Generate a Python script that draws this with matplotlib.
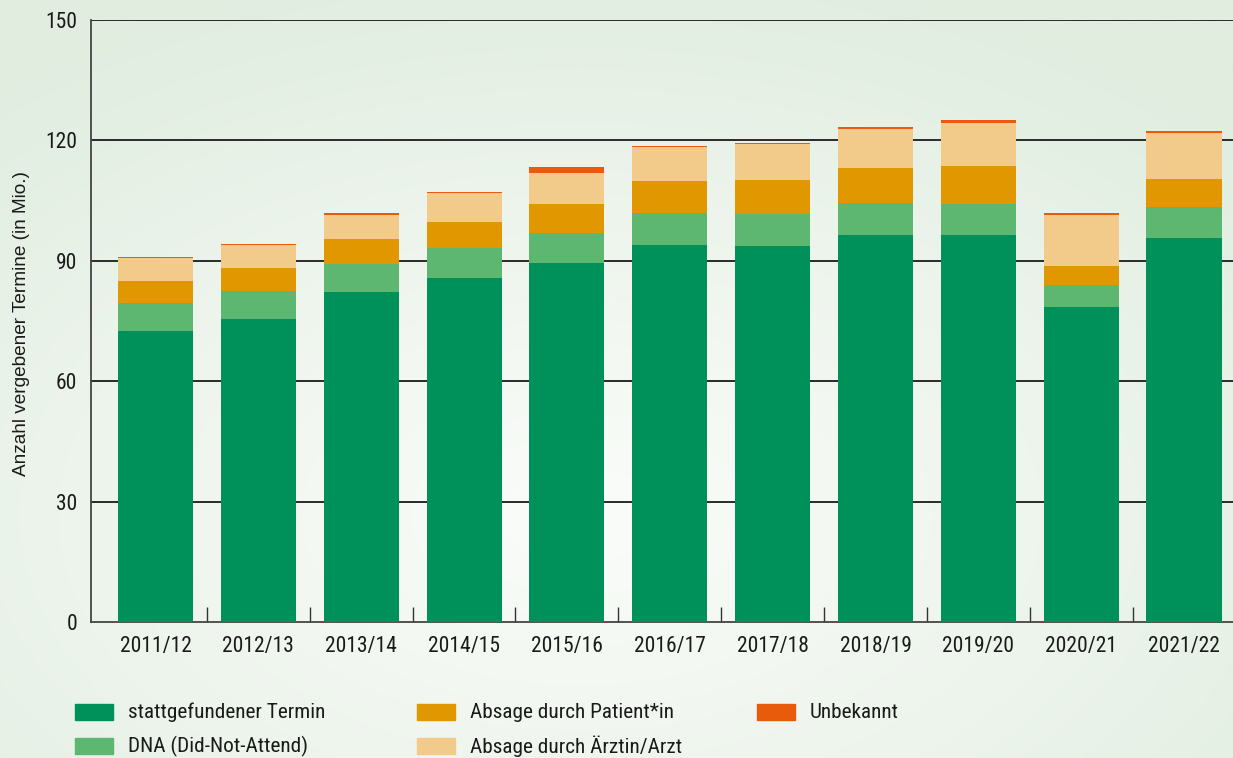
import numpy as np
import matplotlib
matplotlib.use("Agg")
import matplotlib.pyplot as plt
from matplotlib.patches import Rectangle
from matplotlib.colors import to_rgb

plt.rcParams['font.family'] = ['Roboto Condensed', 'DejaVu Sans']

categories = ["2011/12", "2012/13", "2013/14", "2014/15", "2015/16", "2016/17",
              "2017/18", "2018/19", "2019/20", "2020/21", "2021/22"]
stattgefunden = [72.5, 75.5, 82.2, 85.7, 89.5, 93.9, 93.7, 96.4, 96.4, 78.5, 95.7]
dna = [7.0, 7.0, 7.1, 7.6, 7.4, 7.9, 8.0, 8.0, 7.8, 5.5, 7.7]
absage_patient = [5.5, 5.7, 6.1, 6.4, 7.3, 8.1, 8.4, 8.7, 9.4, 4.7, 7.0]
absage_arzt = [5.7, 5.7, 6.0, 7.2, 7.7, 8.5, 9.0, 9.7, 10.7, 12.7, 11.45]
unbekannt = [0.25, 0.3, 0.5, 0.25, 1.5, 0.25, 0.3, 0.5, 0.8, 0.5, 0.5]

series_names = ["stattgefundener Termin", "DNA (Did-Not-Attend)",
                "Absage durch Patient*in", "Absage durch Ärztin/Arzt", "Unbekannt"]
series_values = [stattgefunden, dna, absage_patient, absage_arzt, unbekannt]
colors = ["#00905A", "#5DB771", "#E19800", "#F2CB8B", "#E85B0A"]

W, H = 1233, 758
fig = plt.figure(figsize=(W / 100, H / 100), dpi=100)

# background gradient
bg = fig.add_axes([0, 0, 1, 1], zorder=-10)
yy, xx = np.mgrid[0:1:300j, 0:1:480j]
d = np.sqrt(((xx - 0.47) / 0.75) ** 2 + ((yy - 0.68) / 0.75) ** 2)
t = np.clip(d, 0, 1) ** 1.1
c0 = np.array(to_rgb("#FAFCF9"))
c1 = np.array(to_rgb("#E0EDDF"))
img = c0[None, None, :] * (1 - t[..., None]) + c1[None, None, :] * t[..., None]
bg.imshow(img, aspect='auto', extent=[0, 1, 0, 1], origin='upper')
bg.axis('off')

ax = fig.add_axes([91 / W, 1 - 622 / H, 1 - 91 / W, (622 - 20) / H])
ax.set_facecolor('none')
x = np.arange(len(categories))
bottom = np.zeros(len(categories))
for vals, col in zip(series_values, colors):
    ax.bar(x, vals, bottom=bottom, width=0.73, color=col, zorder=3, linewidth=0)
    bottom += np.array(vals)

ax.set_xlim(-0.627, 10.476)
ax.set_ylim(0, 150)
ax.set_yticks([0, 30, 60, 90, 120, 150])
ax.set_yticklabels(["0", "30", "60", "90", "120", "150"], fontsize=15.5, color='#1a1a1a')
ax.tick_params(axis='y', length=0, pad=10)
ax.set_xticks(x)
ax.set_xticklabels(categories, fontsize=15.5, color='#1a1a1a')
ax.tick_params(axis='x', which='major', length=0, pad=10)
ax.set_xticks(np.arange(0.5, 10.5, 1.0), minor=True)
ax.tick_params(axis='x', which='minor', direction='in', length=11, width=1.0, color='#333333')
for v in [30, 60, 90, 120, 150]:
    ax.axhline(v, color='#2a2a2a', lw=1.4, zorder=1)
for s in ['top', 'right']:
    ax.spines[s].set_visible(False)
ax.spines['left'].set_color('#444444')
ax.spines['left'].set_linewidth(1.3)
ax.spines['bottom'].set_color('#444444')
ax.spines['bottom'].set_linewidth(1.3)
fig.text(22 / W, 1 - 324 / H, "Anzahl vergebener Termine (in Mio.)", fontsize=13.7,
         family=['Liberation Sans', 'DejaVu Sans'], color='#1a1a1a',
         rotation=90, ha='center', va='center')

# legend
pos = [(75, 712), (75, 746), (417, 712), (417, 746), (757, 712)]
for (px, py), name, col in zip(pos, series_names, colors):
    fig.patches.append(Rectangle((px / W, 1 - (py + 8) / H), 38 / W, 16 / H,
                                 transform=fig.transFigure, color=col, zorder=5))
    fig.text((px + 53) / W, 1 - py / H, name, fontsize=15.3, va='center', ha='left',
             color='#1a1a1a')

fig.savefig("out.png", dpi=100)
